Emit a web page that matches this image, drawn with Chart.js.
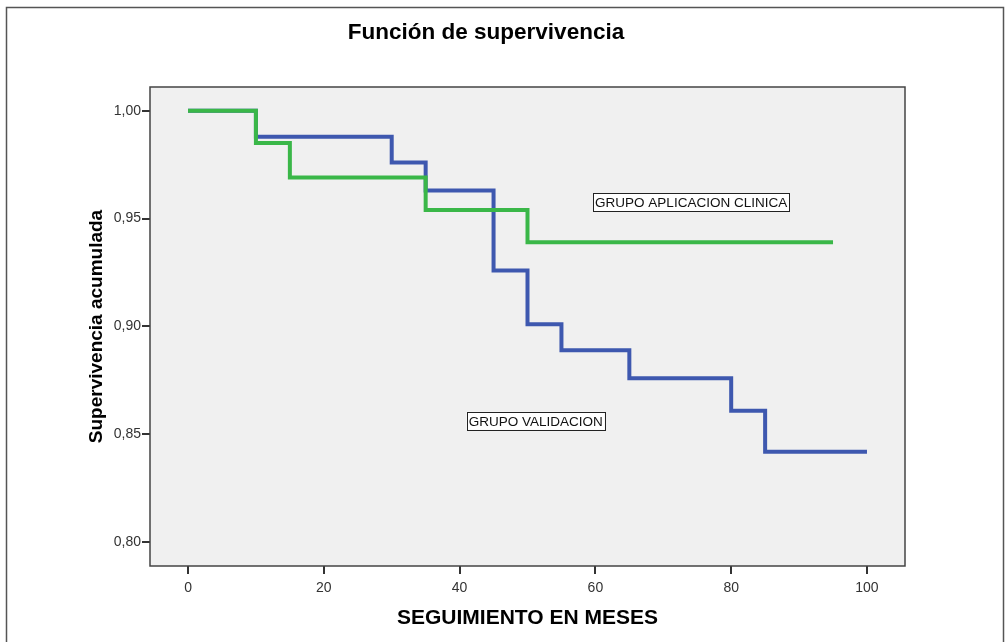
<!DOCTYPE html>
<html>
<head>
<meta charset="utf-8">
<script src="https://cdn.jsdelivr.net/npm/chart.js@4.4.1/dist/chart.umd.min.js"></script>
<style>
  html, body { margin: 0; padding: 0; background: #fff; }
  #wrap { width: 1005px; height: 642px; }
</style>
</head>
<body>
<div id="wrap"><canvas id="kmChart" width="1005" height="642"></canvas></div>
<script>
// Curvas de Kaplan-Meier
const mesesValidacion = [0, 10, 30, 35, 45, 50, 55, 65, 80, 85, 100];
const supValidacion   = [1.000, 0.988, 0.976, 0.963, 0.926, 0.901, 0.889, 0.876, 0.861, 0.842, 0.842];

const mesesClinica = [0, 10, 15, 35, 50, 95];
const supClinica   = [1.000, 0.985, 0.969, 0.954, 0.939, 0.939];

const ticksX = [0, 20, 40, 60, 80, 100];
const ticksY = [0.80, 0.85, 0.90, 0.95, 1.00];

// etiquetas de grupo (en unidades del grafico)
const etiquetas = [
    { texto: 'GRUPO APLICACION CLINICA', x: 74.1, y: 0.9575 },
    { texto: 'GRUPO VALIDACION', x: 51.2, y: 0.8563 }
];

function puntos(xs, ys) {
    return xs.map((x, i) => ({ x: x, y: ys[i] }));
}

const fuente = "'Liberation Sans', Arial, sans-serif";

// Fondo gris, marco y recuadros de texto
const decoracion = {
    id: 'decoracion',
    beforeDraw(chart) {
        const ctx = chart.ctx;
        const a = chart.chartArea;
        ctx.save();
        ctx.fillStyle = '#ffffff';
        ctx.fillRect(0, 0, chart.width, chart.height);
        ctx.strokeStyle = '#555';
        ctx.lineWidth = 1.5;
        ctx.strokeRect(6.5, 7.5, 997, 650);
        ctx.fillStyle = '#f0f0f0';
        ctx.fillRect(a.left, a.top, a.right - a.left, a.bottom - a.top);
        ctx.restore();
    },
    afterDatasetsDraw(chart) {
        const ctx = chart.ctx;
        const a = chart.chartArea;
        const sx = chart.scales.x, sy = chart.scales.y;
        ctx.save();
        ctx.strokeStyle = '#444';
        ctx.lineWidth = 1.5;
        ctx.strokeRect(a.left, a.top, a.right - a.left, a.bottom - a.top);

        ctx.font = '13.5px ' + fuente;
        ctx.textAlign = 'center';
        ctx.textBaseline = 'middle';
        etiquetas.forEach(e => {
            const cx = sx.getPixelForValue(e.x);
            const cy = sy.getPixelForValue(e.y);
            const w = ctx.measureText(e.texto).width + 4;
            const h = 18;
            ctx.fillStyle = '#ffffff';
            ctx.fillRect(cx - w / 2, cy - h / 2, w, h);
            ctx.strokeStyle = '#222';
            ctx.lineWidth = 1;
            ctx.strokeRect(Math.round(cx - w / 2) + 0.5, Math.round(cy - h / 2) + 0.5, Math.round(w), h);
            ctx.fillStyle = '#111';
            ctx.fillText(e.texto, cx, cy + 1);
        });
        ctx.restore();
    }
};

new Chart(document.getElementById('kmChart'), {
    type: 'line',
    data: {
        datasets: [
            {
                label: 'GRUPO APLICACION CLINICA',
                data: puntos(mesesClinica, supClinica),
                borderColor: 'rgb(58, 183, 72)',
                borderWidth: 4,
                stepped: true,
                pointRadius: 0,
                fill: false
            },
            {
                label: 'GRUPO VALIDACION',
                data: puntos(mesesValidacion, supValidacion),
                borderColor: 'rgb(62, 88, 175)',
                borderWidth: 4,
                stepped: true,
                pointRadius: 0,
                fill: false
            }
        ]
    },
    options: {
        responsive: false,
        animation: false,
        layout: { padding: { left: 67, right: 100, top: 19.5, bottom: 11.4 } },
        plugins: {
            legend: { display: false },
            tooltip: { enabled: false },
            title: {
                display: true,
                text: 'Función de supervivencia',
                color: '#000',
                font: { family: fuente, size: 22.5, weight: 'bold' },
                padding: { top: 0, bottom: 40.5 }
            }
        },
        scales: {
            x: {
                type: 'linear',
                min: -5.6,
                max: 105.6,
                afterBuildTicks: s => { s.ticks = ticksX.map(v => ({ value: v })); },
                afterFit: s => { s.height = 64.6; },
                grid: { drawOnChartArea: false, drawTicks: true, tickLength: 8, color: '#333', lineWidth: 2 },
                border: { display: false },
                ticks: { color: '#333', padding: 6, maxRotation: 0, font: { family: fuente, size: 14 } },
                title: {
                    display: true,
                    text: 'SEGUIMIENTO EN MESES',
                    color: '#000',
                    padding: 0,
                    font: { family: fuente, size: 21, weight: 'bold' }
                }
            },
            y: {
                min: 0.789,
                max: 1.011,
                afterBuildTicks: s => { s.ticks = ticksY.map(v => ({ value: v })); },
                afterFit: s => { s.width = 83; },
                grid: { drawOnChartArea: false, drawTicks: true, tickLength: 8, color: '#333', lineWidth: 2 },
                border: { display: false },
                ticks: {
                    color: '#333',
                    padding: 1,
                    font: { family: fuente, size: 14 },
                    callback: v => v.toFixed(2).replace('.', ',')
                },
                title: {
                    display: true,
                    text: 'Supervivencia acumulada',
                    color: '#000',
                    padding: { top: 18, bottom: 0 },
                    font: { family: fuente, size: 19, weight: 'bold' }
                }
            }
        }
    },
    plugins: [decoracion]
});
</script>
</body>
</html>
